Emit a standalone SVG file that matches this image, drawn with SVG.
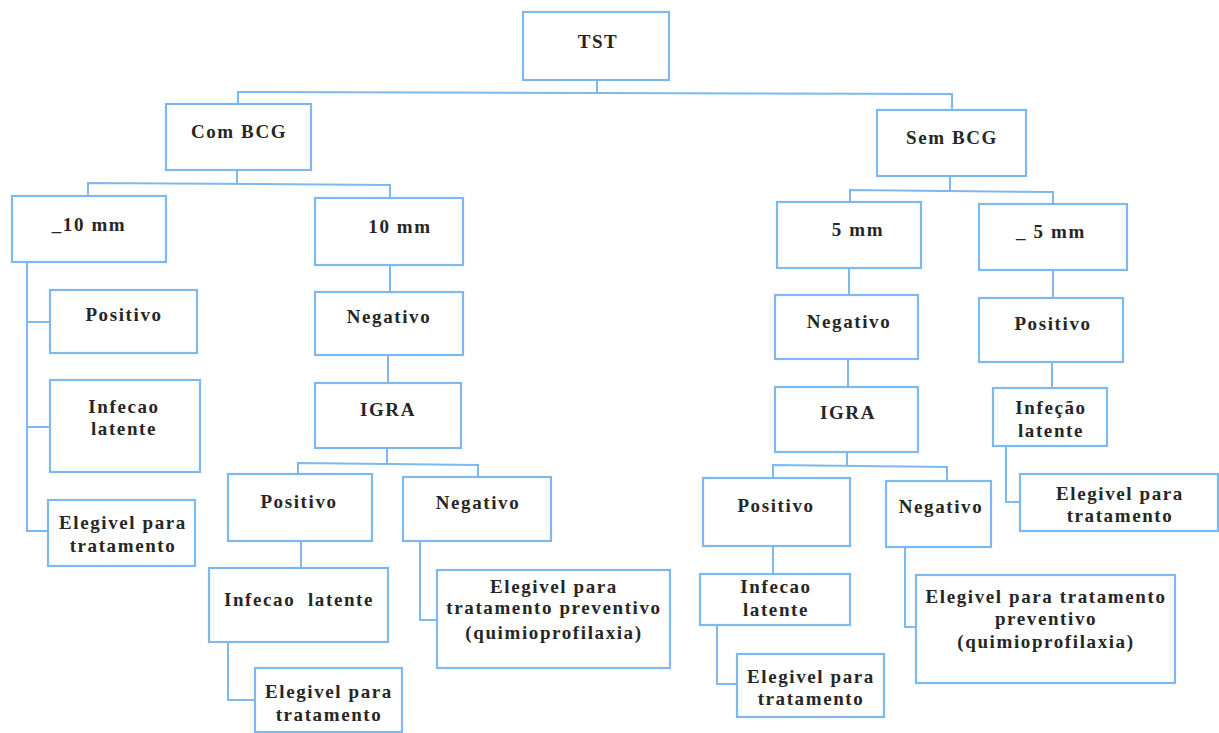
<svg xmlns="http://www.w3.org/2000/svg" width="1219" height="733" viewBox="0 0 1219 733">
  <style>
    .box { fill: #ffffff; stroke: #7db8ee; stroke-width: 2.2; }
    .lbl { font-family: "Liberation Serif", "DejaVu Serif", "Times New Roman", serif; font-weight: bold; font-size: 19px; letter-spacing: 1.6px; fill: #262626; text-anchor: middle; }
    .wire { fill: none; stroke: #7db8ee; stroke-width: 2; }
  </style>
  <rect width="1219" height="733" fill="#ffffff"/>

  <!-- connectors -->
  <g id="connectors" class="wire">
    <!-- TST split -->
    <polyline points="597,80 597,92"/>
    <polyline points="238,105 238,92 952,94 952,110"/>
    <!-- Com BCG split -->
    <polyline points="237,170 237,183"/>
    <polyline points="88,196 88,183 390,185 390,198"/>
    <!-- _10 mm chain -->
    <polyline points="27,262 27,531 48,531"/>
    <polyline points="27,322 50,322"/>
    <polyline points="27,427 50,427"/>
    <!-- 10 mm chain -->
    <polyline points="390,265 390,292"/>
    <polyline points="388,355 388,383"/>
    <polyline points="387,448 387,463"/>
    <polyline points="298,474 298,463 478,465 478,477"/>
    <polyline points="301,541 301,568"/>
    <polyline points="228,642 228,700 255,700"/>
    <polyline points="420,541 420,620 437,620"/>
    <!-- Sem BCG split -->
    <polyline points="950,176 950,190"/>
    <polyline points="850,202 850,190 1053,192 1053,204"/>
    <!-- 5 mm chain -->
    <polyline points="849,268 849,295"/>
    <polyline points="848,359 848,387"/>
    <polyline points="847,452 847,465"/>
    <polyline points="773,478 773,465 947,467 947,481"/>
    <polyline points="773,546 773,574"/>
    <polyline points="717,625 717,684 737,684"/>
    <polyline points="905,547 905,627 916,627"/>
    <!-- _5 mm chain -->
    <polyline points="1053,270 1053,298"/>
    <polyline points="1052,362 1052,388"/>
    <polyline points="1006,446 1006,502 1020,502"/>
  </g>

  <g id="n-tst"><rect class="box" x="523" y="12" width="146" height="68"/><text class="lbl" x="598" y="48">TST</text></g>
  <g id="n-com-bcg"><rect class="box" x="166" y="104" width="145" height="66"/><text class="lbl" x="239" y="138">Com BCG</text></g>
  <g id="n-sem-bcg"><rect class="box" x="877" y="110" width="149" height="66"/><text class="lbl" x="952" y="144">Sem BCG</text></g>

  <!-- Com BCG branch -->
  <g id="n-ge10"><rect class="box" x="12" y="196" width="154" height="66"/><text class="lbl" x="89" y="231">_10 mm</text></g>
  <g id="n-lt10"><rect class="box" x="315" y="198" width="148" height="67"/><text class="lbl" x="400" y="233">10 mm</text></g>
  <g id="n-pos-a"><rect class="box" x="50" y="290" width="147" height="63"/><text class="lbl" x="124" y="321">Positivo</text></g>
  <g id="n-inf-a"><rect class="box" x="50" y="380" width="150" height="92"/><text class="lbl" x="124" y="413">Infecao</text><text class="lbl" x="124" y="435">latente</text></g>
  <g id="n-ele-a"><rect class="box" x="48" y="500" width="147" height="66"/><text class="lbl" x="123" y="529">Elegivel para</text><text class="lbl" x="123" y="552">tratamento</text></g>
  <g id="n-neg-a"><rect class="box" x="315" y="292" width="148" height="63"/><text class="lbl" x="389" y="323">Negativo</text></g>
  <g id="n-igra-a"><rect class="box" x="315" y="383" width="146" height="65"/><text class="lbl" x="388" y="416">IGRA</text></g>
  <g id="n-pos-b"><rect class="box" x="228" y="474" width="144" height="67"/><text class="lbl" x="299" y="508">Positivo</text></g>
  <g id="n-neg-b"><rect class="box" x="403" y="477" width="148" height="64"/><text class="lbl" x="478" y="509">Negativo</text></g>
  <g id="n-inf-b"><rect class="box" x="209" y="568" width="179" height="74"/><text class="lbl" x="299" y="606" xml:space="preserve">Infecao  latente</text></g>
  <g id="n-ele-b"><rect class="box" x="255" y="668" width="147" height="64"/><text class="lbl" x="329" y="698">Elegivel para</text><text class="lbl" x="329" y="721">tratamento</text></g>
  <g id="n-prev-a"><rect class="box" x="437" y="570" width="233" height="98"/><text class="lbl" x="554" y="593">Elegivel para</text><text class="lbl" x="554" y="614">tratamento preventivo</text><text class="lbl" x="554" y="639">(quimioprofilaxia)</text></g>

  <!-- Sem BCG branch -->
  <g id="n-ge5"><rect class="box" x="777" y="202" width="144" height="66"/><text class="lbl" x="858" y="236">5 mm</text></g>
  <g id="n-lt5"><rect class="box" x="979" y="204" width="148" height="66"/><text class="lbl" x="1051" y="238">_ 5 mm</text></g>
  <g id="n-neg-c"><rect class="box" x="775" y="295" width="143" height="64"/><text class="lbl" x="849" y="328">Negativo</text></g>
  <g id="n-igra-b"><rect class="box" x="775" y="387" width="143" height="65"/><text class="lbl" x="848" y="419">IGRA</text></g>
  <g id="n-pos-c"><rect class="box" x="703" y="478" width="147" height="68"/><text class="lbl" x="776" y="512">Positivo</text></g>
  <g id="n-neg-d"><rect class="box" x="886" y="481" width="105" height="66"/><text class="lbl" x="941" y="513">Negativo</text></g>
  <g id="n-inf-c"><rect class="box" x="700" y="574" width="150" height="51"/><text class="lbl" x="776" y="593">Infecao</text><text class="lbl" x="776" y="616">latente</text></g>
  <g id="n-ele-c"><rect class="box" x="737" y="654" width="147" height="63"/><text class="lbl" x="811" y="683">Elegivel para</text><text class="lbl" x="811" y="705">tratamento</text></g>
  <g id="n-prev-b"><rect class="box" x="916" y="575" width="259" height="108"/><text class="lbl" x="1046" y="603">Elegivel para tratamento</text><text class="lbl" x="1046" y="625">preventivo</text><text class="lbl" x="1046" y="648">(quimioprofilaxia)</text></g>
  <g id="n-pos-d"><rect class="box" x="979" y="298" width="144" height="64"/><text class="lbl" x="1053" y="330">Positivo</text></g>
  <g id="n-inf-d"><rect class="box" x="993" y="388" width="114" height="58"/><text class="lbl" x="1051" y="414">Infeção</text><text class="lbl" x="1051" y="437">latente</text></g>
  <g id="n-ele-d"><rect class="box" x="1020" y="474" width="198" height="57"/><text class="lbl" x="1120" y="500">Elegivel para</text><text class="lbl" x="1120" y="522">tratamento</text></g>
</svg>
